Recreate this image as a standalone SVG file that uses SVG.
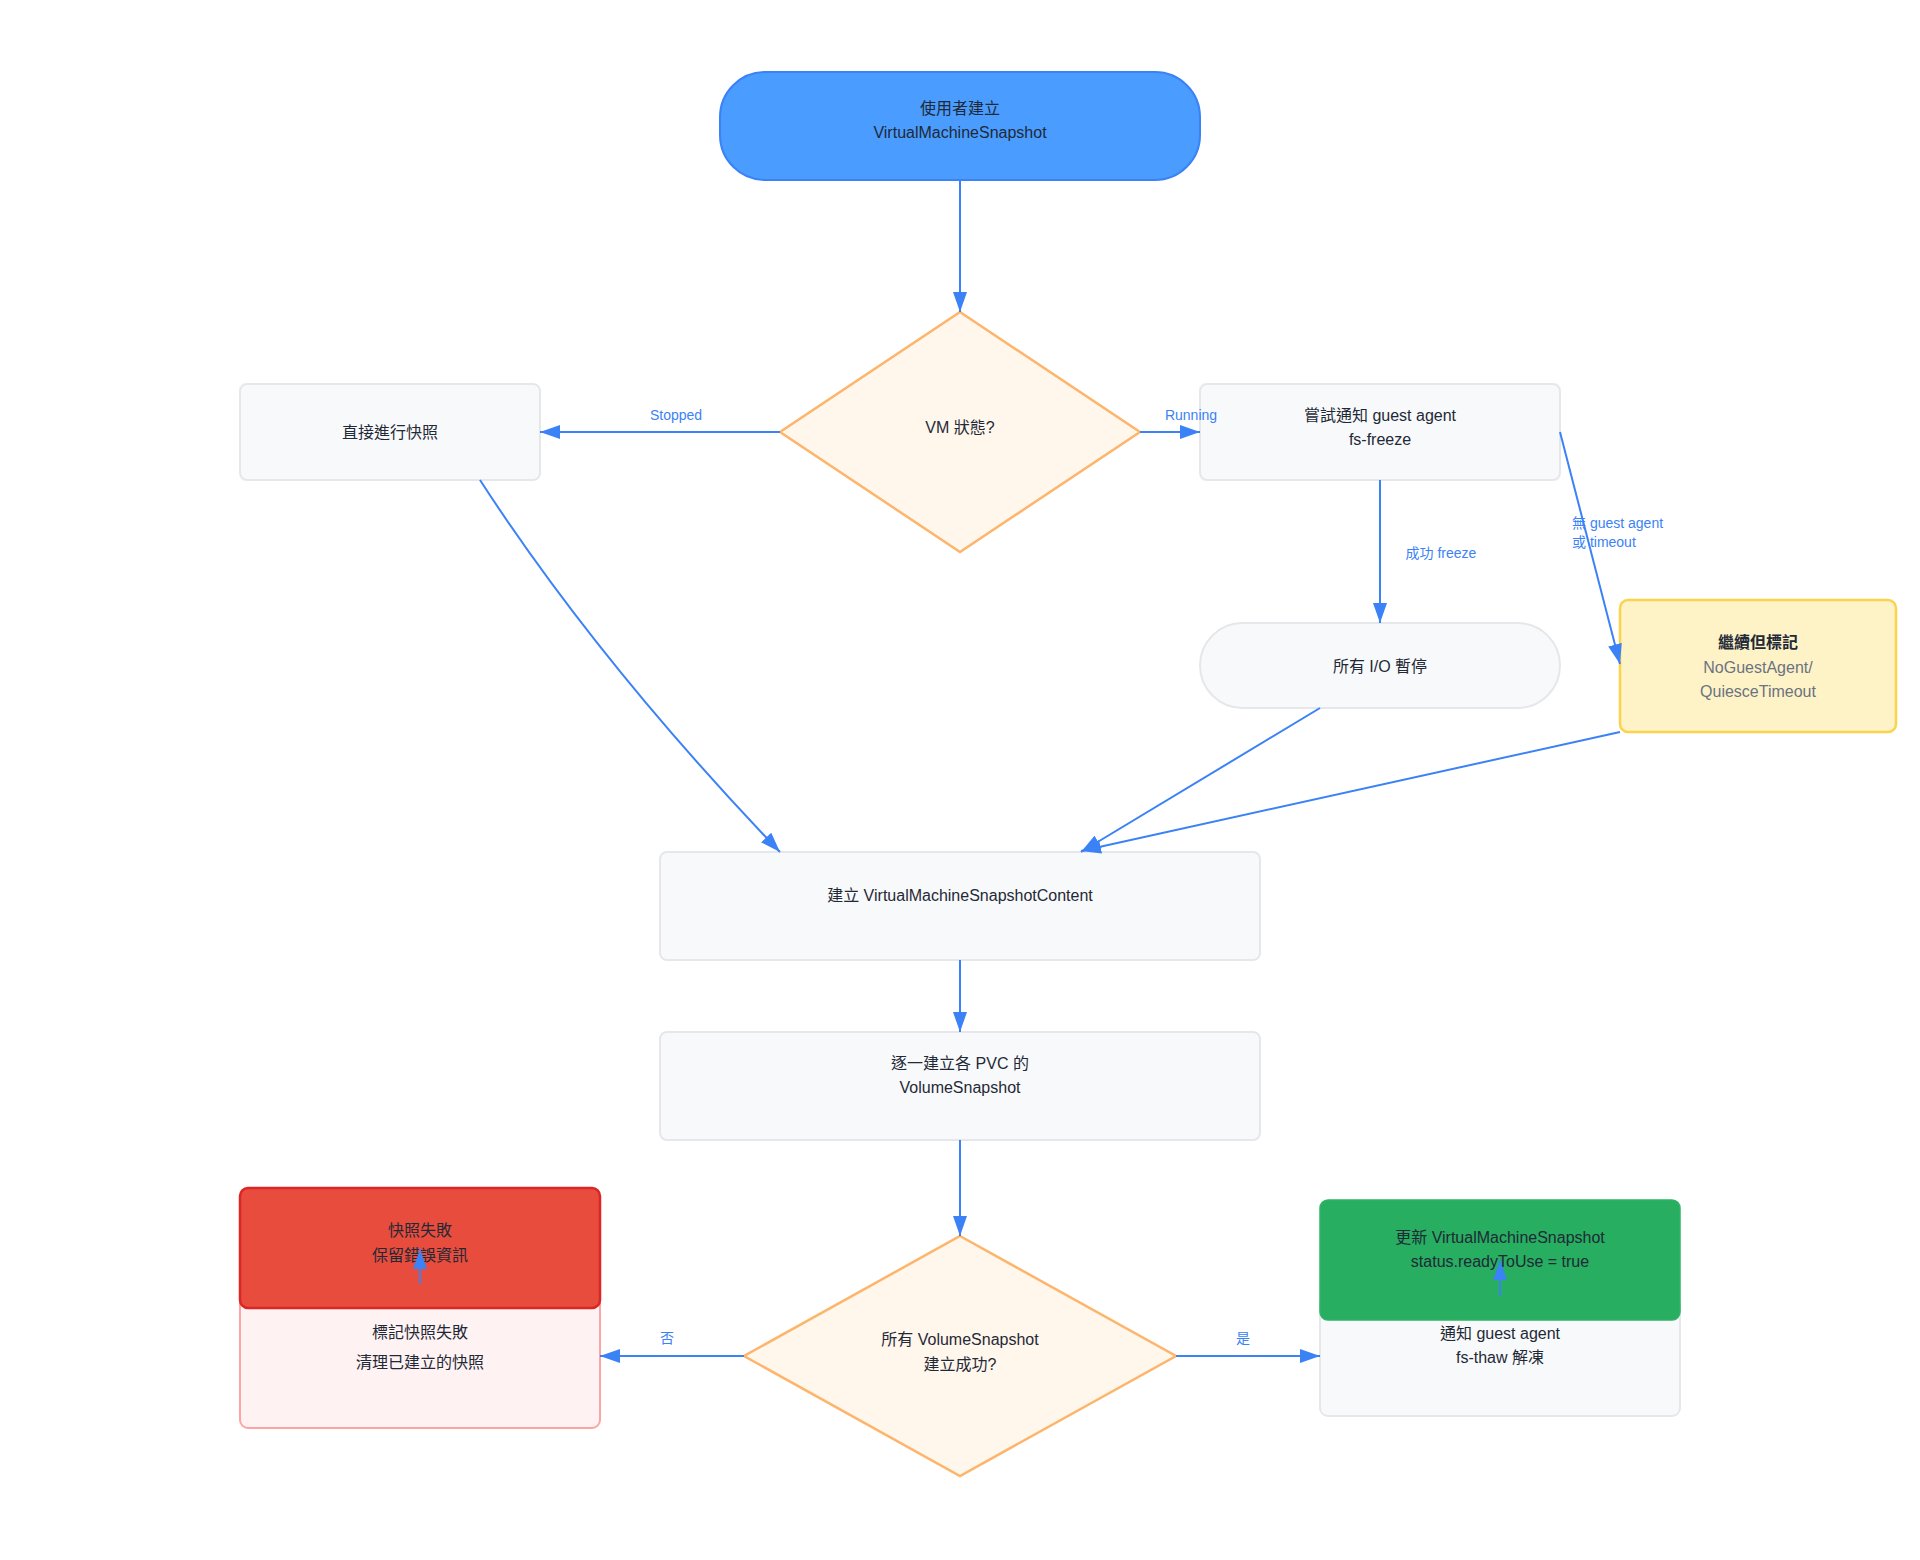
<svg xmlns="http://www.w3.org/2000/svg" width="1920" height="1560" viewBox="0 0 1920 1560">
  <defs>
    <style>
      .t { font-family: "Liberation Sans", "Noto Sans CJK TC", sans-serif; font-size: 16px; fill: #1F2937; text-anchor: middle; dominant-baseline: central; }
      .b { font-weight: bold; }
      .sub { fill: #6B7280; }
      .lbl { font-family: "Liberation Sans", "Noto Sans CJK TC", sans-serif; font-size: 14px; fill: #3B82F6; text-anchor: middle; dominant-baseline: central; }
      .lbl-l { text-anchor: start; }
      .n { fill: #F8F9FA; stroke: #E5E7EB; stroke-width: 2; }
      .dia { fill: #FFF6EC; stroke: #FDB56B; stroke-width: 2.5; }
      .e { fill: none; stroke: #3B82F6; stroke-width: 2; marker-end: url(#ah); }
    </style>
    <marker id="ah" markerUnits="userSpaceOnUse" markerWidth="20" markerHeight="14" refX="20" refY="7" orient="auto">
      <path d="M0,0 L20,7 L0,14 z" fill="#3B82F6"/>
    </marker>
  </defs>
  <rect width="1920" height="1560" fill="#FFFFFF"/>

  <g id="start">
    <rect x="720" y="72" width="480" height="108" rx="45" fill="#4A9DFF" stroke="#3B82F6" stroke-width="2"/>
    <text class="t" x="960" y="108">使用者建立</text>
    <text class="t" x="960" y="132">VirtualMachineSnapshot</text>
  </g>

  <g id="vmstate">
    <polygon class="dia" points="960,312 1140,432 960,552 780,432"/>
    <text class="t" x="960" y="427">VM 狀態?</text>
  </g>

  <g id="direct">
    <rect class="n" x="240" y="384" width="300" height="96" rx="7"/>
    <text class="t" x="390" y="432">直接進行快照</text>
  </g>

  <g id="freeze">
    <rect class="n" x="1200" y="384" width="360" height="96" rx="7"/>
    <text class="t" x="1380" y="415">嘗試通知 guest agent</text>
    <text class="t" x="1380" y="439">fs-freeze</text>
  </g>

  <g id="iopause">
    <rect class="n" x="1200" y="623" width="360" height="85" rx="42.5"/>
    <text class="t" x="1380" y="666">所有 I/O 暫停</text>
  </g>

  <g id="continue">
    <rect x="1620" y="600" width="276" height="132" rx="8" fill="#FEF2C7" stroke="#FCD34D" stroke-width="2.5"/>
    <text class="t b" x="1758" y="642">繼續但標記</text>
    <text class="t sub" x="1758" y="667" font-size="14">NoGuestAgent/</text>
    <text class="t sub" x="1758" y="691" font-size="14">QuiesceTimeout</text>
  </g>

  <g id="content">
    <rect class="n" x="660" y="852" width="600" height="108" rx="7"/>
    <text class="t" x="960" y="895">建立 VirtualMachineSnapshotContent</text>
  </g>

  <g id="volsnap">
    <rect class="n" x="660" y="1032" width="600" height="108" rx="7"/>
    <text class="t" x="960" y="1063">逐一建立各 PVC 的</text>
    <text class="t" x="960" y="1087">VolumeSnapshot</text>
  </g>

  <g id="allok">
    <polygon class="dia" points="960,1236 1176,1356 960,1476 744,1356"/>
    <text class="t" x="960" y="1339">所有 VolumeSnapshot</text>
    <text class="t" x="960" y="1364">建立成功?</text>
  </g>

  <g id="markfail">
    <rect x="240" y="1284" width="360" height="144" rx="8" fill="#FEF2F2" stroke="#FCA5A5" stroke-width="2"/>
    <text class="t" x="420" y="1332">標記快照失敗</text>
    <text class="t" x="420" y="1362">清理已建立的快照</text>
  </g>

  <g id="failed">
    <rect x="240" y="1188" width="360" height="120" rx="8" fill="#E74C3C" stroke="#DC2626" stroke-width="2.5"/>
    <text class="t" x="420" y="1230">快照失敗</text>
    <text class="t" x="420" y="1255">保留錯誤資訊</text>
  </g>

  <g id="thaw">
    <rect class="n" x="1320" y="1296" width="360" height="120" rx="8"/>
    <text class="t" x="1500" y="1333">通知 guest agent</text>
    <text class="t" x="1500" y="1357">fs-thaw 解凍</text>
  </g>

  <g id="ready">
    <rect x="1320" y="1200" width="360" height="120" rx="8" fill="#27AE60" stroke="#2FB466" stroke-width="1.5"/>
    <text class="t" x="1500" y="1237">更新 VirtualMachineSnapshot</text>
    <text class="t" x="1500" y="1261">status.readyToUse = true</text>
  </g>

  <g id="connectors">
    <path class="e" d="M960,180 L960,312"/>
    <path class="e" d="M780,432 L540,432"/>
    <path class="e" d="M1140,432 L1200,432"/>
    <path class="e" d="M1380,480 L1380,623"/>
    <path class="e" d="M1560,432 L1620,664"/>
    <path class="e" d="M480,480 Q598,662 780,852"/>
    <path class="e" d="M1320,708 L1081,852"/>
    <path class="e" d="M1620,732 L1081,851"/>
    <path class="e" d="M960,960 L960,1032"/>
    <path class="e" d="M960,1140 L960,1236"/>
    <path class="e" d="M744,1356 L600,1356"/>
    <path class="e" d="M1176,1356 L1320,1356"/>
    <path class="e" d="M420,1284 L420,1249"/>
    <path class="e" d="M1500,1296 L1500,1260"/>
    <text class="lbl" x="676" y="415">Stopped</text>
    <text class="lbl" x="1191" y="415">Running</text>
    <text class="lbl" x="1441" y="553">成功 freeze</text>
    <text class="lbl lbl-l" x="1572" y="523">無 guest agent</text>
    <text class="lbl lbl-l" x="1572" y="542">或 timeout</text>
    <text class="lbl" x="667" y="1338">否</text>
    <text class="lbl" x="1243" y="1338">是</text>
  </g>
</svg>
